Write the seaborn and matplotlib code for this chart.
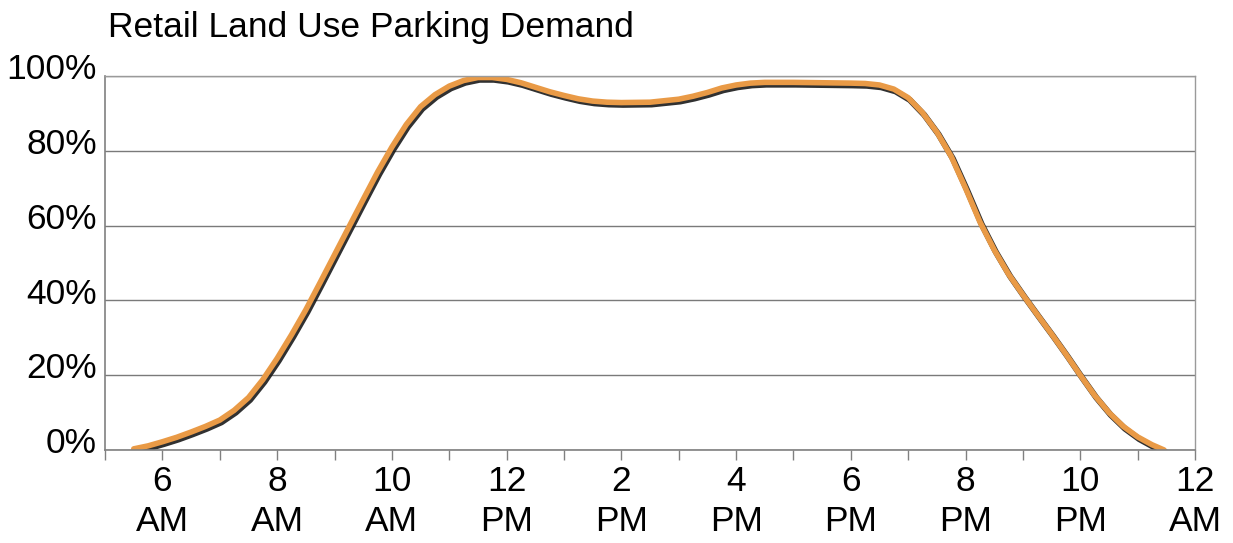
import matplotlib
matplotlib.use("Agg")
import matplotlib.pyplot as plt
import matplotlib.patheffects as pe
from matplotlib.transforms import ScaledTranslation
import seaborn as sns
import pandas as pd

# Hour of day (5 = 5 AM, 24 = midnight) and share of peak parking demand (%)
hours = [5.5, 5.75, 6.0, 6.25, 6.5, 6.75, 7.0, 7.25, 7.5, 7.75, 8.0, 8.25, 8.5, 8.75,
         9.0, 9.25, 9.5, 9.75, 10.0, 10.25, 10.5, 10.75, 11.0, 11.25, 11.5, 11.75,
         12.0, 12.25, 12.5, 12.75, 13.0, 13.25, 13.5, 13.75, 14.0, 14.5, 15.0, 15.25,
         15.5, 15.75, 16.0, 16.25, 16.5, 17.0, 17.5, 18.0, 18.25, 18.5, 18.75, 19.0,
         19.25, 19.5, 19.75, 20.0, 20.25, 20.5, 20.75, 21.0, 21.25, 21.5, 21.75,
         22.0, 22.25, 22.5, 22.75, 23.0, 23.25, 23.46]
demand = [0.3, 1.1, 2.2, 3.4, 4.8, 6.3, 8.0, 10.6, 14.0, 18.8, 24.5, 30.8, 37.5, 44.8,
          52.2, 59.6, 67.0, 74.3, 81.0, 87.0, 91.8, 95.0, 97.3, 98.8, 99.6, 99.6,
          99.1, 98.2, 97.0, 95.8, 94.8, 93.9, 93.3, 93.0, 92.9, 93.0, 93.8, 94.6,
          95.6, 96.8, 97.6, 98.1, 98.3, 98.3, 98.2, 98.1, 98.0, 97.6, 96.5, 94.2,
          90.2, 85.0, 78.5, 70.0, 61.0, 53.5, 47.0, 41.5, 36.2, 31.0, 25.6,
          20.0, 14.6, 10.0, 6.3, 3.5, 1.4, 0.0]

tick_hours = list(range(6, 25, 2))
tick_labels = ["6\nAM", "8\nAM", "10\nAM", "12\nPM", "2\nPM", "4\nPM",
               "6\nPM", "8\nPM", "10\nPM", "12\nAM"]
y_ticks = [0, 20, 40, 60, 80, 100]
y_labels = ["0%", "20%", "40%", "60%", "80%", "100%"]

title = "Retail Land Use Parking Demand"

sns.set_theme(style="white")
plt.rcParams["font.family"] = ["Liberation Sans", "DejaVu Sans"]
plt.rcParams["text.color"] = "black"
plt.rcParams["xtick.color"] = "black"
plt.rcParams["ytick.color"] = "black"

df = pd.DataFrame({"hour": hours, "demand": demand})

fig = plt.figure(figsize=(12.33, 5.43), dpi=100)
ax = fig.add_axes([0.0852, 0.1713, 0.8840, 0.6887])

sns.lineplot(data=df, x="hour", y="demand", ax=ax, color="#E99A46", linewidth=4.0,
             solid_capstyle="round", solid_joinstyle="round",
             path_effects=[pe.SimpleLineShadow(offset=(1.2, -1.6), shadow_color="#1a1a1a",
                                               alpha=0.9, linewidth=4.4),
                           pe.Normal()])

ax.set_xlim(5, 24)
ax.set_ylim(0, 100)

ax.set_xticks(tick_hours)
ax.set_xticklabels(tick_labels, fontsize=25.5, linespacing=1.3)
ax.set_xticks(list(range(5, 25)), minor=True)
ax.tick_params(axis="x", which="both", direction="out", length=7.5, width=1,
               color="#808080", bottom=True, pad=3, labelcolor="black")

ax.set_yticks(y_ticks)
ax.set_yticklabels(y_labels, fontsize=25.5)
ax.tick_params(axis="y", which="major", length=0, pad=6, labelcolor="black")
for lab in ax.get_yticklabels():
    lab.set_transform(lab.get_transform() + ScaledTranslation(0, 7 / 72, fig.dpi_scale_trans))

ax.yaxis.grid(True, color="#7a7a7a", linewidth=1.0)
ax.xaxis.grid(False)
for side in ["left", "bottom"]:
    ax.spines[side].set_color("#808080")
    ax.spines[side].set_linewidth(1.2)
for side in ["top", "right"]:
    ax.spines[side].set_color("#9a9a9a")
    ax.spines[side].set_linewidth(1.0)

ax.set_xlabel("")
ax.set_ylabel("")
fig.text(108 / 1233, 1 - 27 / 543, title, fontsize=25.5, ha="left", va="center",
         color="black")

fig.savefig("out.png", dpi=100, facecolor="white")
